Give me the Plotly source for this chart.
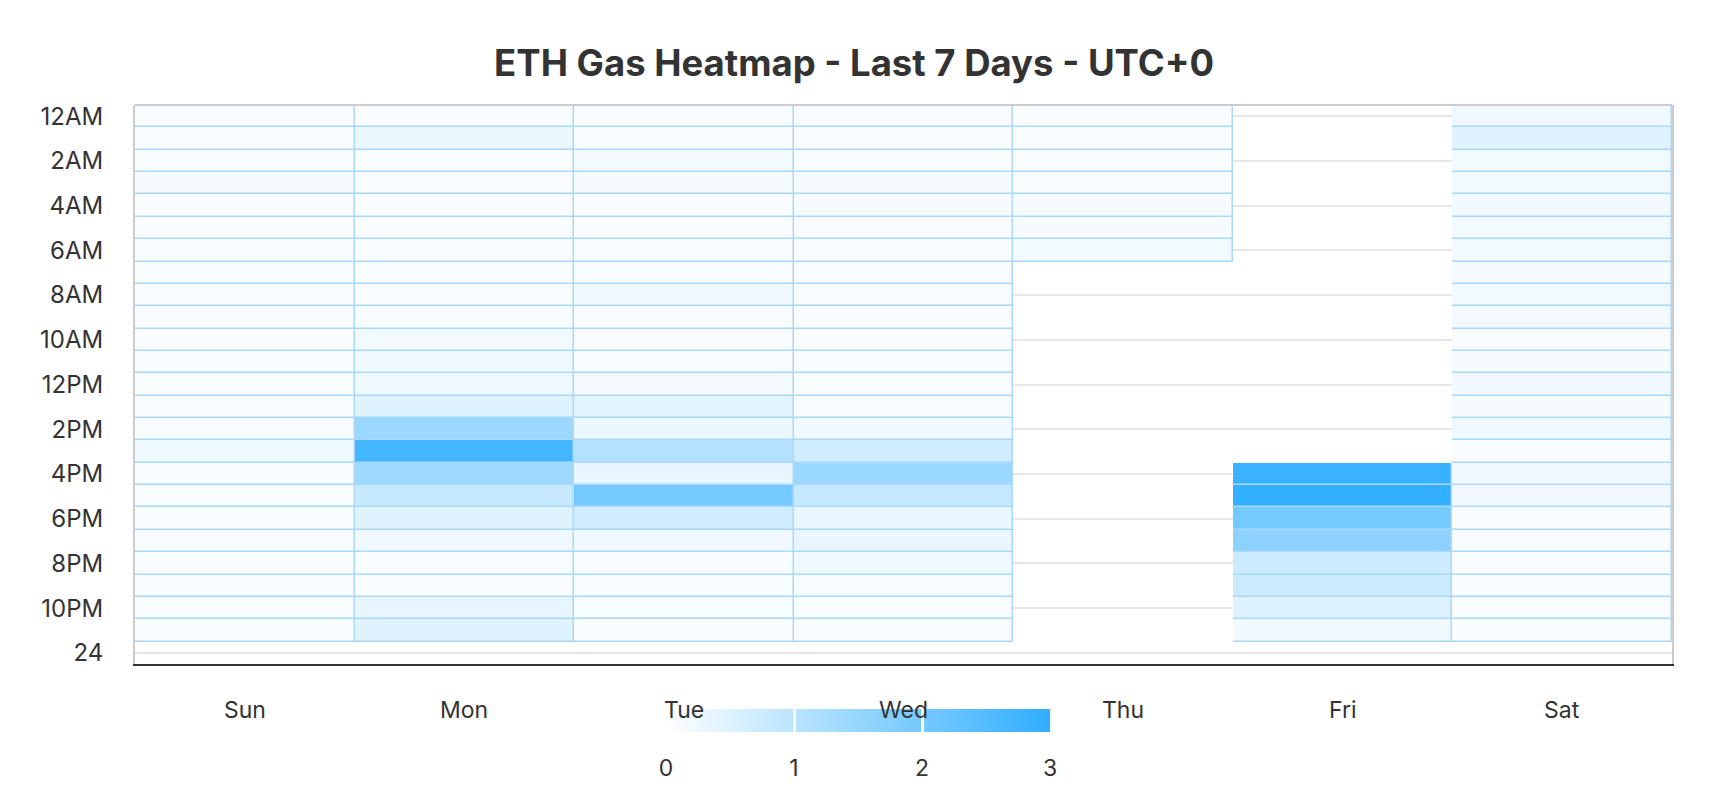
import plotly.graph_objects as go

# Gas-Werte (gwei-Skala 0..3) pro Tag und Stunde, None = keine Daten
days = ["Sun", "Mon", "Tue", "Wed", "Thu", "Fri", "Sat"]
hours = list(range(24))
hour_ticks = list(range(0, 25, 2))
hour_labels = ["12AM", "2AM", "4AM", "6AM", "8AM", "10AM", "12PM",
               "2PM", "4PM", "6PM", "8PM", "10PM", "24"]

sun = [0.10, 0.07, 0.07, 0.14, 0.07, 0.07, 0.07, 0.10, 0.07, 0.10, 0.07, 0.07,
       0.07, 0.07, 0.07, 0.25, 0.07, 0.07, 0.07, 0.10, 0.07, 0.09, 0.07, 0.07]
mon = [0.10, 0.29, 0.07, 0.10, 0.07, 0.08, 0.07, 0.08, 0.10, 0.12, 0.20, 0.26,
       0.24, 0.46, 1.45, 2.72, 1.40, 0.82, 0.46, 0.22, 0.12, 0.09, 0.33, 0.46]
tue = [0.10, 0.10, 0.17, 0.14, 0.07, 0.07, 0.10, 0.10, 0.23, 0.10, 0.10, 0.10,
       0.17, 0.45, 0.30, 1.10, 0.32, 2.01, 0.68, 0.22, 0.12, 0.12, 0.12, 0.09]
wed = [0.10, 0.07, 0.07, 0.14, 0.14, 0.10, 0.07, 0.07, 0.10, 0.07, 0.07, 0.07,
       0.07, 0.10, 0.22, 0.68, 1.45, 0.86, 0.33, 0.32, 0.22, 0.12, 0.07, 0.07]
thu = [0.09, 0.09, 0.09, 0.10, 0.14, 0.14, 0.19] + [None] * 17
fri = [None] * 16 + [2.86, 2.96, 2.01, 1.65, 0.74, 0.75, 0.49, 0.22]
sat = [0.24, 0.46, 0.17, 0.17, 0.22, 0.17, 0.17, 0.14, 0.17, 0.17, 0.10, 0.14,
       0.23, 0.14, 0.25, 0.10, 0.22, 0.23, 0.10, 0.10, 0.10, 0.08, 0.08, 0.08]

cols = [sun, mon, tue, wed, thu, fri, sat]
z = [[c[h] for c in cols] for h in hours]
# maske fuer die blauen zellraender
mask = [[None if v is None else 1 for v in row] for row in z]

FONT = "Inter"
TXT = "#333333"
BORDER = "#a9d8fa"

# farbbalken unter dem plot (paper-koordinaten)
cb_pos = dict(orientation="h", xref="paper", x=0.4704, xanchor="center",
              yref="paper", y=-0.0805, yanchor="top",
              len=384, lenmode="pixels", thickness=23,
              xpad=0, ypad=0, outlinewidth=0)

fig = go.Figure()

# untere schicht: nur zellraender (durch die gaps sichtbar)
fig.add_trace(go.Heatmap(
    x=days, y=hours, z=mask,
    colorscale=[[0, BORDER], [1, BORDER]],
    showscale=False, hoverinfo="skip",
))

fig.add_trace(go.Heatmap(
    x=days, y=hours, z=z,
    zmin=0, zmax=3,
    colorscale=[[0, "#ffffff"], [1, "#30aeff"]],
    xgap=1.5, ygap=1.5,
    colorbar=dict(
        **cb_pos,
        tickvals=[0, 1, 2, 3],
        ticks="outside", ticklen=17, tickcolor="rgba(0,0,0,0)",
        tickfont=dict(family=FONT, size=23, color=TXT),
    ),
))

# nur fuer die weissen trennstriche im farbbalken
fig.add_trace(go.Scatter(
    x=[None], y=[None], mode="markers", showlegend=False, hoverinfo="skip",
    marker=dict(
        color=[0], cmin=0, cmax=3,
        colorscale=[[0, "rgba(0,0,0,0)"], [1, "rgba(0,0,0,0)"]],
        showscale=True,
        colorbar=dict(
            **cb_pos,
            tickvals=[1, 2], ticks="inside", ticklen=23,
            tickwidth=3, tickcolor="white", showticklabels=False,
        ),
    ),
))

fig.update_xaxes(
    type="category", categoryarray=days,
    showgrid=False, zeroline=False,
    showline=True, linecolor=TXT, linewidth=2,
    ticks="", showticklabels=False,
)
fig.update_yaxes(
    range=[24.5, -0.5],
    tickvals=hour_ticks, ticktext=hour_labels,
    showgrid=True, gridcolor="#e6e6e6", gridwidth=2,
    zeroline=False,
    showline=True, linecolor="#cccccc", linewidth=2, mirror=True,
    ticks="", ticklabelstandoff=25, automargin=False,
    tickfont=dict(family=FONT, size=24, color=TXT),
)

# tageslabels als annotationen, damit sie ueber dem farbbalken liegen
for d in days:
    fig.add_annotation(x=d, xref="x", y=0, yref="paper", yshift=-46,
                       yanchor="middle", showarrow=False, text=d,
                       font=dict(family=FONT, size=23, color=TXT))

# obere rahmenlinie
fig.add_shape(type="line", xref="x domain", yref="y domain",
              x0=0, x1=1, y0=1, y1=1,
              line=dict(color="#cccccc", width=2))

fig.update_layout(
    width=1716, height=804,
    margin=dict(l=127, r=52, t=97, b=148, autoexpand=False),
    paper_bgcolor="white", plot_bgcolor="white",
    title=dict(text="<b>ETH Gas Heatmap - Last 7 Days - UTC+0</b>",
               x=0.4931, xanchor="center", y=1 - 55 / 804, yanchor="middle",
               font=dict(family=FONT, size=36.5, color=TXT)),
    showlegend=False,
)

fig.write_html("out.html")
